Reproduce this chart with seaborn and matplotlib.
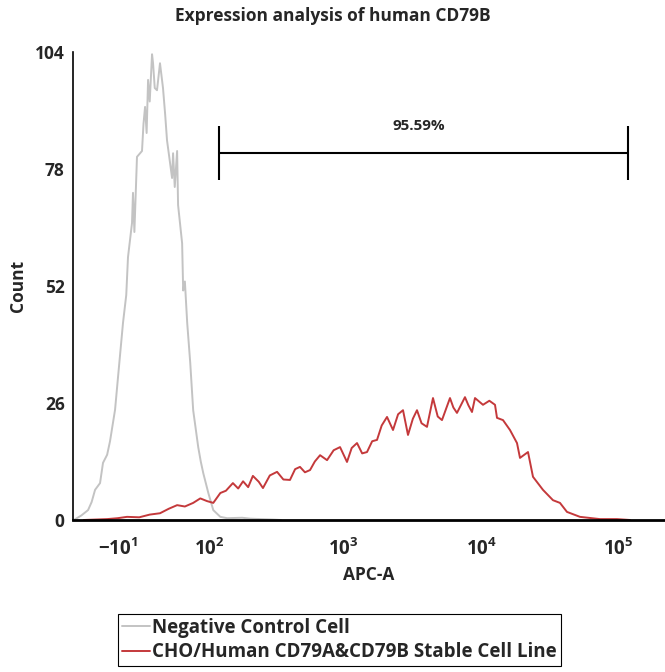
import numpy as np
import pandas as pd
import matplotlib
matplotlib.use("Agg")
import matplotlib.pyplot as plt
import seaborn as sns
from matplotlib.ticker import FixedLocator, AutoMinorLocator
from matplotlib.lines import Line2D

# Histogram traces (APC-A intensity, count)
neg_x = [-57.4, -48, -40, -36, -32.3, -27.1, -24.1, -20, -17.2, -12.4, -9.6, -5, -2, -0.4,
         3.3, 4.2, 5.5, 7.9, 12.6, 14, 15.5, 17, 18.4, 20, 22.3, 23.3, 25, 27.3, 30.4,
         33.6, 36, 38, 43.8, 45, 47, 49.9, 51.1, 56.3, 57.7, 60, 63.2, 67.5, 71.9,
         79.8, 84, 88.3, 97.4, 107, 122, 138, 180, 207, 250, 306, 350]
neg_y = [0, 1.0, 2.2, 4.0, 6.7, 8.2, 12.7, 14.5, 17.5, 24.5, 31.8, 43.8, 50, 58.4,
         66, 72.7, 64, 80.7, 82, 88, 91.8, 86, 97.8, 93, 103.5, 101.5, 96, 95.5, 101.5,
         96, 90, 84.4, 76, 81.5, 74, 82, 70, 61.5, 51, 53, 43.8, 35, 24.4,
         16.2, 13, 10.4, 6, 2.2, 0.7, 0.4, 0.5, 0.3, 0.2, 0.1, 0]

pos_x = [-45, -20, -10, -1.3, 10, 20, 30.4, 40, 49.9, 60, 71.9, 83.2, 95, 107, 122,
         135, 153, 168, 183, 200, 217, 240, 258, 290, 328, 365, 408, 445, 483, 525,
         572, 620, 677, 761, 850, 946, 1063, 1150, 1257, 1370, 1486, 1620, 1757,
         1900, 2077, 2296, 2500, 2714, 2950, 3200, 3429, 3700, 4053, 4481, 4850,
         5208, 5954, 6300, 6692, 7650, 8100, 8603, 9046, 10340, 11500, 12640,
         13070, 14450, 16240, 18260, 19200, 21950, 23860, 28190, 33330, 37470,
         42120, 52350, 73130, 97180, 120800]
pos_y = [0, 0.2, 0.4, 0.7, 0.6, 1.2, 1.5, 2.5, 3.3, 3.0, 3.8, 4.8, 4.2, 3.8, 6.0,
         6.5, 8.2, 7.0, 8.6, 7.3, 9.8, 8.5, 7.1, 9.9, 10.7, 9.0, 8.9, 11.3, 11.8, 10.6,
         11.1, 13.0, 14.4, 13.3, 15.5, 16.2, 12.9, 16.0, 17.1, 14.8, 15.1, 17.5, 17.8,
         21.0, 22.9, 20.0, 23.5, 24.4, 18.9, 22.5, 24.4, 21.5, 20.7, 27.1, 23.0,
         22.2, 27.1, 25.0, 23.8, 27.3, 25.5, 24.0, 27.1, 25.6, 26.5, 25.6,
         22.7, 22.2, 20.0, 17.1, 13.8, 15.1, 9.6, 6.7, 4.4, 3.8,
         1.8, 0.7, 0.2, 0.2, 0]

labels = ["Negative Control Cell", "CHO/Human CD79A&CD79B Stable Cell Line"]
colors = ["#c3c3c3", "#c4393b"]

gate_lo, gate_hi = 119, 116800
gate_y = 81.6
gate_text = "95.59%"

x_major = [-10, 100, 1000, 10000, 100000]
x_major_labels = [r"$\mathbf{-10^{1}}$", r"$\mathbf{10^{2}}$", r"$\mathbf{10^{3}}$",
                  r"$\mathbf{10^{4}}$", r"$\mathbf{10^{5}}$"]
x_minor = ([-50, -40, -30, -20, 0, 10, 20, 30, 40, 50, 60, 70, 80, 90]
           + [m * 10 ** k for k in (2, 3, 4) for m in range(2, 10)] + [200000])
y_major = [0, 26, 52, 78, 104]

df = pd.concat([
    pd.DataFrame({"APC-A": neg_x, "Count": neg_y, "sample": labels[0]}),
    pd.DataFrame({"APC-A": pos_x, "Count": pos_y, "sample": labels[1]}),
])

sns.set_style("white")
plt.rcParams["font.family"] = ["Open Sans", "DejaVu Sans"]
plt.rcParams["font.weight"] = "bold"
plt.rcParams["mathtext.fontset"] = "custom"
plt.rcParams["mathtext.bf"] = "Open Sans:bold"
plt.rcParams["mathtext.rm"] = "Open Sans:bold"

fig = plt.figure(figsize=(6.65, 6.72), dpi=100)
ax = fig.add_axes([73 / 665, 1 - 520 / 672, 1 - 73 / 665, (520 - 52) / 672])

sns.lineplot(data=df, x="APC-A", y="Count", hue="sample", palette=colors,
             estimator=None, linewidth=1.4, legend=False, ax=ax)

c = 55.0
ax.set_xscale("function", functions=(lambda v: np.arcsinh(v / c),
                                     lambda v: c * np.sinh(v)))
ax.set_xlim(-58.6, 2.17e5)
ax.set_ylim(0, 104)

ax.xaxis.set_major_locator(FixedLocator(x_major))
ax.set_xticklabels(x_major_labels)
ax.xaxis.set_minor_locator(FixedLocator(x_minor))
ax.set_yticks(y_major)
ax.yaxis.set_minor_locator(AutoMinorLocator(4))

ax.tick_params(axis="both", which="major", direction="out", length=4, width=1.2,
               color="black", labelsize=12.5, pad=2)
ax.tick_params(axis="both", which="minor", direction="out", length=2.5, width=1.0,
               color="black")
ax.tick_params(axis="x", which="major", pad=9, labelsize=13.5)
for lab in ax.get_xticklabels() + ax.get_yticklabels():
    lab.set_fontweight("bold")

for s in ["top", "right"]:
    ax.spines[s].set_visible(False)
ax.spines["left"].set_linewidth(1.2)
ax.spines["bottom"].set_linewidth(2.0)
ax.spines["left"].set_color("black")
ax.spines["bottom"].set_color("black")

ax.set_xlabel("APC-A", fontsize=12.5, fontweight="bold", labelpad=5)
ax.set_ylabel("Count", fontsize=12.5, fontweight="bold", labelpad=6)

# gate marker
ax.hlines(gate_y, gate_lo, gate_hi, color="black", linewidth=1.5)
ax.vlines([gate_lo, gate_hi], gate_y - 6, gate_y + 6, color="black", linewidth=1.5)
ax.text(np.sqrt(gate_lo * gate_hi) * 0.95, gate_y + 6, gate_text, ha="center",
        va="center", fontsize=11, fontweight="bold")

fig.suptitle("Expression analysis of human CD79B", x=333 / 665, y=1 - 16 / 672,
             va="center", fontsize=12.5, fontweight="bold")

handles = [Line2D([], [], color=col, linewidth=1.4) for col in colors]
leg = fig.legend(handles, labels, loc="upper left",
                 bbox_to_anchor=(118 / 665, 1 - 614 / 672), frameon=True,
                 fancybox=False, edgecolor="black", framealpha=1, borderpad=0.2,
                 handlelength=1.5, handletextpad=0.12, borderaxespad=0,
                 labelspacing=0.25, prop={"size": 13.5, "weight": "bold"})
leg.get_frame().set_linewidth(0.8)

fig.savefig("out.png", dpi=100)
